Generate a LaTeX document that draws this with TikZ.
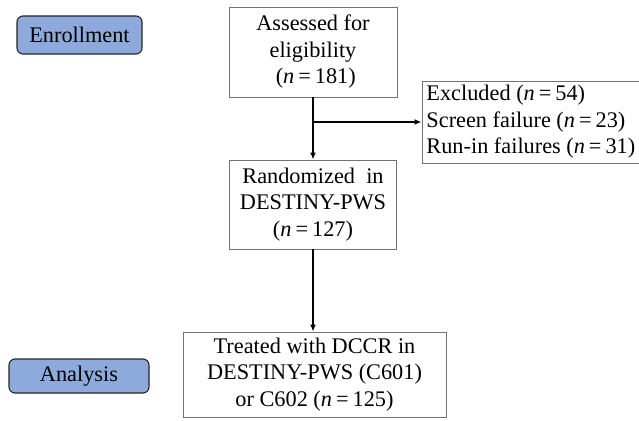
\documentclass[tikz,border=0pt]{standalone}
\usepackage{fontspec}
\setmainfont{Liberation Serif}
\usepackage{xcolor}
\usetikzlibrary{positioning,calc,arrows.meta}

\definecolor{stageblue}{HTML}{8EA9DB}
\newcommand{\nn}{\textit{n}\kern4pt=\kern4pt}

\begin{document}
\begin{tikzpicture}[x=1pt,y=-1pt,
	flowbox/.style={draw=black!55, line width=0.9pt, fill=white, align=center, inner sep=0pt, font=\fontsize{22.3}{26.5}\selectfont},
	stagebox/.style={draw=black!85, line width=1.1pt, fill=stageblue, rounded corners=6pt, inner sep=0pt, font=\fontsize{22.3}{25}\selectfont},
	flowarrow/.style={-{Latex[length=7pt,width=6pt]}, line width=1.6pt}]
	\useasboundingbox (0,0) rectangle (639,420);
	% stage labels
	\node[stagebox, minimum width=125pt, minimum height=38pt] (enroll) at (79.5,35) {Enrollment};
	\node[stagebox, minimum width=140pt, minimum height=34pt] (analysis) at (79,376) {Analysis};
	% flow boxes
	\node[flowbox, minimum width=168pt, minimum height=90pt] (assessed) at (313,52) {Assessed for\\eligibility\\\ (\nn181)};
	\node[flowbox, minimum width=216pt, minimum height=82pt, align=left, inner xsep=4.5pt, anchor=west] (excluded) at (421.5,122) {Excluded (\nn54)\\Screen failure (\nn23)\\Run-in failures (\nn31)};
	\node[flowbox, minimum width=167pt, minimum height=89pt] (random) at (313,204.5) {Randomized\ \ in\\DESTINY-PWS\\(\nn127)};
	\node[flowbox, minimum width=263pt, minimum height=85pt] (treated) at (314.5,374.5) {Treated with DCCR in\\DESTINY-PWS (C601)\\or C602 (\nn125)};
	% connectors
	\coordinate (split) at (assessed.south |- excluded.west);
	\draw[flowarrow] (assessed.south) -- (random.north);
	\draw[flowarrow] (split) -- (excluded.west);
	\draw[flowarrow] (random.south) -- (random.south |- treated.north);
\end{tikzpicture}
\end{document}
